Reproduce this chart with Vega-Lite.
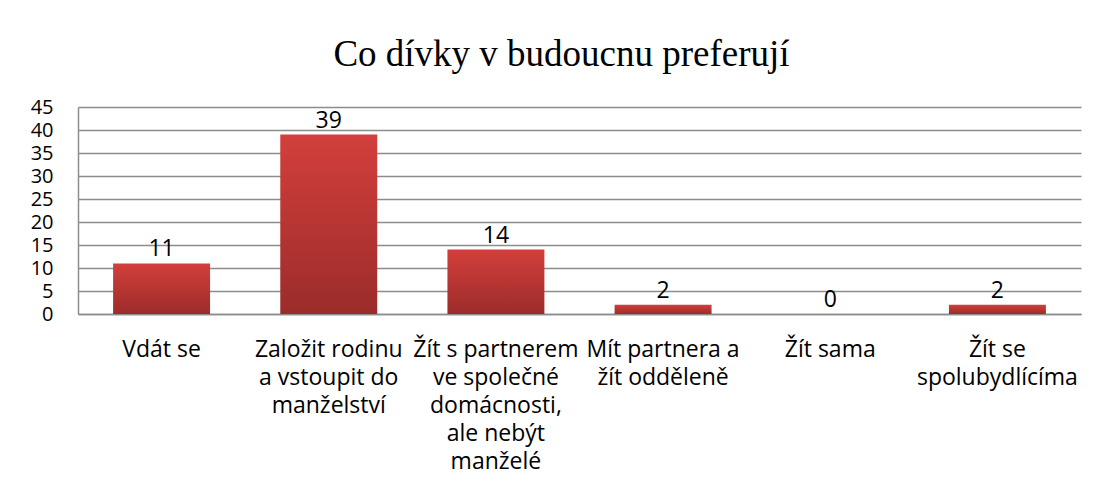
{
  "$schema": "https://vega.github.io/schema/vega-lite/v6.json",
  "autosize": {"type": "none"},
  "width": 1003,
  "height": 207,
  "padding": {"left": 78, "top": 107, "right": 17, "bottom": 190},
  "background": "white",
  "title": {
    "text": "Co dívky v budoucnu preferují",
    "font": "Liberation Serif",
    "fontSize": 37,
    "fontWeight": "normal",
    "color": "#000000",
    "anchor": "middle",
    "dx": -18,
    "offset": 23
  },
  "data": {
    "values": [
      {"kategorie": "Vdát se", "pocet": 11},
      {"kategorie": "Založit rodinu|a vstoupit do|manželství", "pocet": 39},
      {"kategorie": "Žít s partnerem|ve společné|domácnosti,|ale nebýt|manželé", "pocet": 14},
      {"kategorie": "Mít partnera a|žít odděleně", "pocet": 2},
      {"kategorie": "Žít sama", "pocet": 0},
      {"kategorie": "Žít se|spolubydlícíma", "pocet": 2}
    ]
  },
  "config": {
    "view": {"stroke": null},
    "axis": {"labelFont": "Open Sans", "labelFontSize": 20, "labelColor": "#000000"}
  },
  "encoding": {
    "x": {
      "field": "kategorie",
      "type": "nominal",
      "sort": null,
      "scale": {"paddingInner": 0.42, "paddingOuter": 0.21},
      "axis": {
        "title": null,
        "labelAngle": 0,
        "ticks": false,
        "domainColor": "#8c8c8c",
        "domainWidth": 1.5,
        "labelFontSize": 23,
        "labelPadding": 24,
        "labelLineHeight": 28,
        "labelBaseline": "top",
        "labelExpr": "split(datum.label, '|')",
        "labelLimit": 0
      }
    },
    "y": {
      "field": "pocet",
      "type": "quantitative",
      "scale": {"domain": [0, 45]},
      "axis": {
        "title": null,
        "values": [0, 5, 10, 15, 20, 25, 30, 35, 40, 45],
        "ticks": false,
        "labelFontSize": 20,
        "labelPadding": 25,
        "labelOverlap": false,
        "labelBaseline": "middle",
        "domainColor": "#8c8c8c",
        "domainWidth": 1.5,
        "gridColor": "#8c8c8c",
        "gridWidth": 1.5
      }
    }
  },
  "layer": [
    {
      "mark": {
        "type": "bar",
        "color": {
          "gradient": "linear",
          "x1": 0, "y1": 0, "x2": 0, "y2": 1,
          "stops": [
            {"offset": 0, "color": "#d33f3c"},
            {"offset": 1, "color": "#9b2c2a"}
          ]
        }
      }
    },
    {
      "mark": {
        "type": "text",
        "font": "Open Sans",
        "fontSize": 23,
        "color": "#000000",
        "baseline": "bottom",
        "dy": -2
      },
      "encoding": {"text": {"field": "pocet", "type": "quantitative"}}
    }
  ]
}
